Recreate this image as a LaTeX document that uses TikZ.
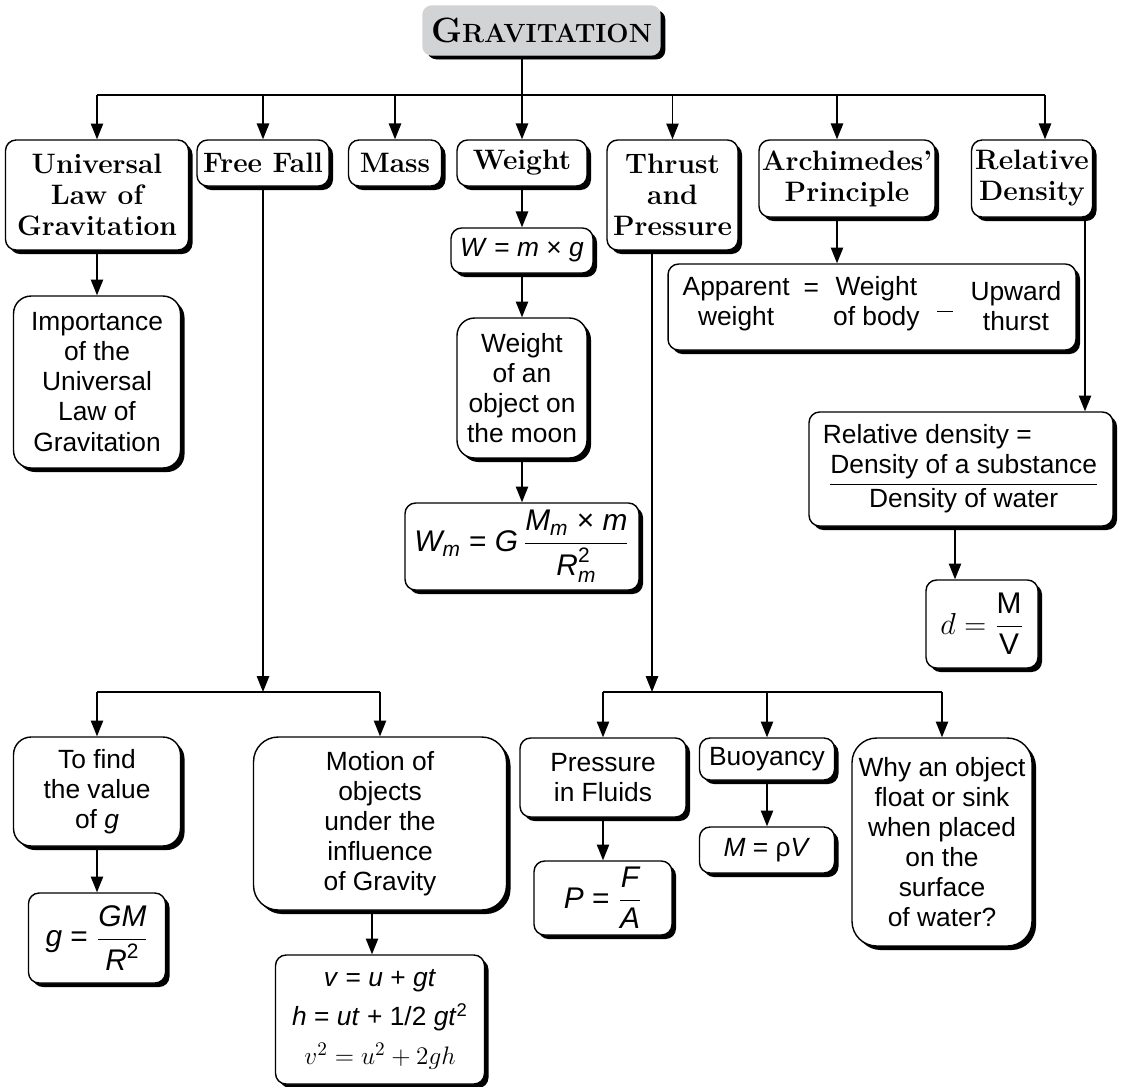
\documentclass[tikz,border=0pt]{standalone}
\usepackage{amsmath}
\usepackage{fontspec}
\newfontfamily\arial{Liberation Sans}
\usetikzlibrary{arrows.meta,shadows}
\definecolor{titlegray}{HTML}{D1D3D4}
\newcommand{\sit}[1]{\text{\itshape #1}}

\begin{document}
\begin{tikzpicture}[x=0.02cm, y=-0.02cm,
    box/.style={draw, line width=0.8pt, rounded corners=6pt, fill=white, inner sep=0pt, align=center,
      drop shadow={shadow xshift=2.3pt, shadow yshift=-2.3pt, fill=black, opacity=1}},
    head/.style={box, font=\bfseries\fontsize{16}{17.6}\selectfont},
    body/.style={box, font=\arial\fontsize{15}{17.1}\selectfont},
    formula/.style={box, font=\arial\fontsize{17}{19}\selectfont},
    link/.style={line width=0.9pt},
    arr/.style={line width=0.9pt, -{Triangle[length=9pt, width=7pt]}}]
  \useasboundingbox (0, 0) rectangle (1122, 1086);

  \node [box, draw=titlegray, fill=titlegray, rounded corners=5pt, minimum width=4.74cm, minimum height=0.98cm,
    drop shadow={shadow xshift=3pt, shadow yshift=-2.5pt, fill=black, opacity=1},
    font=\bfseries] (grav) at (541.5, 30.5)
    {{\fontsize{20}{24}\selectfont G}{\fontsize{15}{24}\selectfont RAVITATION}};

  \node [head, minimum width=3.66cm, minimum height=2.2cm] (ulg) at (97, 195) {Universal\\Law of\\Gravitation};
  \node [head, minimum width=2.64cm, minimum height=0.92cm] (ff) at (263, 163) {Free Fall};
  \node [head, minimum width=1.86cm, minimum height=0.92cm] (mass) at (395, 163) {Mass};
  \node [head, minimum width=2.6cm, minimum height=0.92cm] (wt) at (522, 163) {Weight};
  \node [head, minimum width=2.62cm, minimum height=2.2cm] (tp) at (672.5, 195) {Thrust\\and\\Pressure};
  \node [head, minimum width=3.52cm, minimum height=1.54cm] (ap) at (847, 178.5) {Archimedes'\\Principle};
  \node [head, minimum width=2.42cm, minimum height=1.54cm] (rd) at (1032, 178.5) {Relative\\Density};

  \node [body, rounded corners=10pt, minimum width=3.34cm, minimum height=3.44cm] (imp) at (97, 382)
    {Importance\\of the\\Universal\\Law of\\Gravitation};

  \node [body, minimum width=2.84cm, minimum height=0.9cm] (wmg) at (522, 250.5) {\textit{W} = \textit{m} × \textit{g}};
  \node [body, rounded corners=10pt, minimum width=2.6cm, minimum height=2.8cm] (moon) at (522, 388)
    {Weight\\of an\\object on\\the moon};
  \node [formula, minimum width=4.68cm, minimum height=1.74cm] (wm) at (522, 546.5)
    {$\sit{W}_{\sit{m}}\text{ = }\sit{G}\,\dfrac{\sit{M}_{\sit{m}}\text{ × }\sit{m}}{\sit{R}^{\text{2}}_{\sit{m}}}$};

  \node [body, minimum width=8.16cm, minimum height=1.72cm] (appw) at (872, 307)
    {\begin{tabular}{@{}c@{}}Apparent\\weight\end{tabular}\hspace{8pt}\raisebox{8pt}{=}\hspace{8pt}%
     \begin{tabular}{@{}c@{}}Weight\\of body\end{tabular}\hspace{10pt}\rule[-1pt]{9pt}{1pt}\hspace{10pt}%
     \raisebox{-3pt}{\begin{tabular}{@{}c@{}}Upward\\thurst\end{tabular}}};

  \node [body, align=left, minimum width=6.08cm, minimum height=2.28cm] (rdbox) at (961, 469)
    {Relative density =\\[2pt]\hspace{3pt}$\dfrac{\text{Density of a substance}}{\text{Density of water}}$};
  \node [formula, minimum width=2.24cm, minimum height=1.76cm] (dmv) at (982, 624)
    {$d = \dfrac{\text{M}}{\text{V}}$};

  \node [body, rounded corners=10pt, minimum width=3.34cm, minimum height=2.18cm] (tfg) at (97, 791.5)
    {To find\\the value\\of \textit{g}};
  \node [formula, minimum width=2.74cm, minimum height=1.8cm] (gbox) at (97, 938)
    {$\sit{g}\text{ = }\dfrac{\sit{GM}}{\sit{R}^{\text{2}}}$};
  \node [body, rounded corners=14pt, minimum width=5.06cm, minimum height=3.46cm] (mot) at (380, 823.5)
    {Motion of\\objects\\under the\\influence\\of Gravity};
  \node [body, minimum width=4.18cm, minimum height=2.58cm] (eqn) at (380, 1019.5)
    {\textit{v} = \textit{u} + \textit{gt}\\[5pt]\textit{h} = \textit{ut} + 1/2 \textit{gt}$^{\text{2}}$\\[5pt]$v^2 = u^2 + 2gh$};

  \node [body, minimum width=3.32cm, minimum height=1.58cm] (pif) at (603, 777.5) {Pressure\\in Fluids};
  \node [formula, minimum width=2.76cm, minimum height=1.48cm] (pfa) at (603, 898)
    {$\sit{P}\text{ = }\dfrac{\sit{F}}{\sit{A}}$};
  \node [body, minimum width=2.7cm, minimum height=0.84cm] (buoy) at (767, 759) {Buoyancy};
  \node [body, minimum width=2.7cm, minimum height=0.92cm] (mrv) at (767, 850) {\textit{M} = ρ\textit{V}};
  \node [body, rounded corners=14pt, minimum width=3.6cm, minimum height=4.16cm] (why) at (942, 842)
    {Why an object\\float or sink\\when placed\\on the\\surface\\of water?};

  \coordinate (topbus) at (522, 95);
  \coordinate (busW) at (97, 95);
  \coordinate (busE) at (1045, 95);
  \coordinate (apbus) at (837, 95);
  \draw [link] (grav.south -| topbus) -- (topbus);
  \draw [link] (busW) -- (busE);
  \foreach \n in {ulg, ff, mass, wt, tp}
    \draw [arr] (\n.north |- topbus) -- (\n.north);
  \draw [arr] (apbus) -- (apbus |- ap.north);
  \draw [arr] (busE) -- (busE |- rd.north);

  \draw [arr] (ulg.south) -- (imp.north);

  \draw [arr] (wt.south) -- (wmg.north);
  \draw [arr] (wmg.south) -- (moon.north);
  \draw [arr] (moon.south) -- (wm.north);

  \draw [arr] (apbus |- ap.south) -- (apbus |- appw.north);

  \coordinate (rdline) at (1085, 300);
  \coordinate (dline) at (955, 550);
  \draw [arr] (rdline |- rd.south) -- (rdline |- rdbox.north);
  \draw [arr] (dline |- rdbox.south) -- (dline |- dmv.north);

  \coordinate (ffbus) at (263, 692);
  \draw [arr] (ff.south) -- (ffbus);
  \draw [link] (tfg.north |- ffbus) -- (mot.north |- ffbus);
  \draw [arr] (tfg.north |- ffbus) -- (tfg.north);
  \draw [arr] (mot.north |- ffbus) -- (mot.north);
  \draw [arr] (tfg.south) -- (gbox.north);
  \draw [arr] ([xshift=-0.16cm]mot.south) -- ([xshift=-0.16cm]eqn.north);

  \coordinate (tpbus) at (652, 692);
  \draw [arr] (tpbus |- tp.south) -- (tpbus);
  \draw [link] (pif.north |- tpbus) -- (why.north |- tpbus);
  \foreach \n in {pif, buoy, why}
    \draw [arr] (\n.north |- tpbus) -- (\n.north);
  \draw [arr] (pif.south) -- (pfa.north);
  \draw [arr] (buoy.south) -- (mrv.north);
\end{tikzpicture}
\end{document}
